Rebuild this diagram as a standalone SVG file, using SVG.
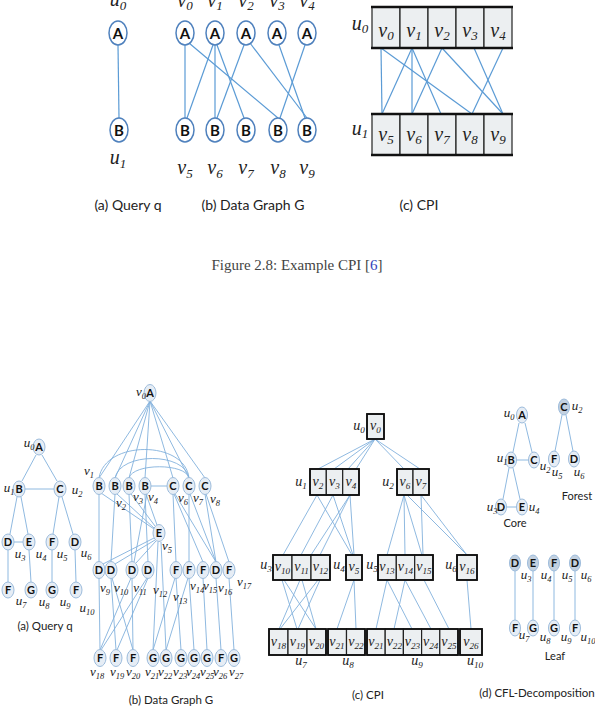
<svg xmlns="http://www.w3.org/2000/svg" width="595" height="715" viewBox="0 0 595 715">
<style>
.e1{stroke:#5b9bd5;stroke-width:1.2;fill:none}
.e2{stroke:#82b1dd;stroke-width:0.9;fill:none}
.n1{fill:#fff;stroke:#4f81bd;stroke-width:1.5}
.n2{fill:#e6edf5;stroke:#9dbcdc;stroke-width:1}
.n3{fill:#c3d1e0;stroke:#9dbcdc;stroke-width:1}
.lt{font-family:Lato,'Liberation Sans',sans-serif;font-weight:bold;text-anchor:middle;fill:#111}
.l1{font-size:15px}
.l2{font-size:11px}
.m{font-family:'Liberation Serif','DejaVu Serif',serif;font-style:italic;text-anchor:middle;fill:#222}
.m1{font-size:20px}
.m2{font-size:14px}
.m3{font-size:13px}
.s{font-size:0.65em}
.cap{font-family:Lato,'Liberation Sans',sans-serif;text-anchor:middle;fill:#222}
.cell{fill:#eceff1;stroke:#222;stroke-width:1.2}
.box{fill:none;stroke:#111;stroke-width:2.5}
</style>

<!-- ===== TOP FIGURE ===== -->
<g id="top-edges">
<line class="e1" x1="118" y1="45" x2="119" y2="118"/>
<line class="e1" x1="185" y1="45" x2="185" y2="118"/>
<line class="e1" x1="189" y1="43" x2="278" y2="118"/>
<line class="e1" x1="213" y1="45" x2="187" y2="118"/>
<line class="e1" x1="215" y1="45" x2="215" y2="118"/>
<line class="e1" x1="217" y1="45" x2="244" y2="118"/>
<line class="e1" x1="244" y1="45" x2="217" y2="118"/>
<line class="e1" x1="250" y1="43" x2="307" y2="118"/>
<line class="e1" x1="279" y1="45" x2="305" y2="118"/>
<line class="e1" x1="305" y1="45" x2="280" y2="118"/>
<line class="e1" x1="381" y1="48" x2="382" y2="114"/>
<line class="e1" x1="381" y1="48" x2="472" y2="114"/>
<line class="e1" x1="412" y1="48" x2="382" y2="114"/>
<line class="e1" x1="412" y1="48" x2="412" y2="114"/>
<line class="e1" x1="412" y1="48" x2="441" y2="114"/>
<line class="e1" x1="442" y1="48" x2="412" y2="114"/>
<line class="e1" x1="442" y1="48" x2="503" y2="114"/>
<line class="e1" x1="474" y1="48" x2="503" y2="114"/>
<line class="e1" x1="503" y1="48" x2="472" y2="114"/>
</g>

<g id="tq-u0"><ellipse class="n1" cx="118" cy="33" rx="9" ry="12"/><text class="lt l1" x="118" y="38.5">A</text><text class="m m1" x="118" y="6">u<tspan class="s" dy="3.5">0</tspan></text></g>
<g id="tq-u1"><ellipse class="n1" cx="119" cy="130" rx="9" ry="12"/><text class="lt l1" x="119" y="135.5">B</text><text class="m m1" x="118" y="164">u<tspan class="s" dy="3.5">1</tspan></text></g>

<g id="tg-v0"><ellipse class="n1" cx="185" cy="33" rx="9" ry="12"/><text class="lt l1" x="185" y="38.5">A</text><text class="m m1" x="185" y="7">v<tspan class="s" dy="3">0</tspan></text></g>
<g id="tg-v1"><ellipse class="n1" cx="215" cy="33" rx="9" ry="12"/><text class="lt l1" x="215" y="38.5">A</text><text class="m m1" x="215" y="7">v<tspan class="s" dy="3">1</tspan></text></g>
<g id="tg-v2"><ellipse class="n1" cx="246" cy="33" rx="9" ry="12"/><text class="lt l1" x="246" y="38.5">A</text><text class="m m1" x="246" y="7">v<tspan class="s" dy="3">2</tspan></text></g>
<g id="tg-v3"><ellipse class="n1" cx="277" cy="33" rx="9" ry="12"/><text class="lt l1" x="277" y="38.5">A</text><text class="m m1" x="277" y="7">v<tspan class="s" dy="3">3</tspan></text></g>
<g id="tg-v4"><ellipse class="n1" cx="307" cy="33" rx="9" ry="12"/><text class="lt l1" x="307" y="38.5">A</text><text class="m m1" x="307" y="7">v<tspan class="s" dy="3">4</tspan></text></g>
<g id="tg-v5"><ellipse class="n1" cx="185" cy="130" rx="9" ry="12"/><text class="lt l1" x="185" y="135.5">B</text><text class="m m1" x="185" y="174">v<tspan class="s" dy="3.5">5</tspan></text></g>
<g id="tg-v6"><ellipse class="n1" cx="215" cy="130" rx="9" ry="12"/><text class="lt l1" x="215" y="135.5">B</text><text class="m m1" x="215" y="174">v<tspan class="s" dy="3.5">6</tspan></text></g>
<g id="tg-v7"><ellipse class="n1" cx="246" cy="130" rx="9" ry="12"/><text class="lt l1" x="246" y="135.5">B</text><text class="m m1" x="246" y="174">v<tspan class="s" dy="3.5">7</tspan></text></g>
<g id="tg-v8"><ellipse class="n1" cx="278" cy="130" rx="9" ry="12"/><text class="lt l1" x="278" y="135.5">B</text><text class="m m1" x="278" y="174">v<tspan class="s" dy="3.5">8</tspan></text></g>
<g id="tg-v9"><ellipse class="n1" cx="307" cy="130" rx="9" ry="12"/><text class="lt l1" x="307" y="135.5">B</text><text class="m m1" x="307" y="174">v<tspan class="s" dy="3.5">9</tspan></text></g>

<g id="tc-u0">
<rect class="cell" x="372" y="7" width="28" height="41"/><rect class="cell" x="400" y="7" width="28" height="41"/><rect class="cell" x="428" y="7" width="28" height="41"/><rect class="cell" x="456" y="7" width="28" height="41"/><rect class="cell" x="484" y="7" width="28" height="41"/>
<line class="box" x1="371" y1="7" x2="513" y2="7"/><line class="box" x1="371" y1="48" x2="513" y2="48"/>
<text class="m m1" x="386" y="37">v<tspan class="s" dy="3">0</tspan></text>
<text class="m m1" x="414" y="37">v<tspan class="s" dy="3">1</tspan></text>
<text class="m m1" x="442" y="37">v<tspan class="s" dy="3">2</tspan></text>
<text class="m m1" x="470" y="37">v<tspan class="s" dy="3">3</tspan></text>
<text class="m m1" x="498" y="37">v<tspan class="s" dy="3">4</tspan></text>
<text class="m m1" x="360" y="30">u<tspan class="s" dy="3">0</tspan></text>
</g>
<g id="tc-u1">
<rect class="cell" x="372" y="114" width="28" height="41"/><rect class="cell" x="400" y="114" width="28" height="41"/><rect class="cell" x="428" y="114" width="28" height="41"/><rect class="cell" x="456" y="114" width="28" height="41"/><rect class="cell" x="484" y="114" width="28" height="41"/>
<line class="box" x1="371" y1="114" x2="513" y2="114"/><line class="box" x1="371" y1="155" x2="513" y2="155"/>
<text class="m m1" x="386" y="141">v<tspan class="s" dy="3">5</tspan></text>
<text class="m m1" x="414" y="141">v<tspan class="s" dy="3">6</tspan></text>
<text class="m m1" x="442" y="141">v<tspan class="s" dy="3">7</tspan></text>
<text class="m m1" x="470" y="141">v<tspan class="s" dy="3">8</tspan></text>
<text class="m m1" x="498" y="141">v<tspan class="s" dy="3">9</tspan></text>
<text class="m m1" x="360" y="135">u<tspan class="s" dy="3">1</tspan></text>
</g>

<g id="top-captions">
<text class="cap" x="128" y="210" font-size="14">(a) Query q</text>
<text class="cap" x="253" y="210" font-size="14">(b) Data Graph G</text>
<text class="cap" x="419" y="210" font-size="14">(c) CPI</text>
</g>

<text x="297" y="270" font-family="'Liberation Serif',serif" font-size="15" fill="#444" text-anchor="middle">Figure 2.8: Example CPI [<tspan fill="#3344bb">6</tspan>]</text>

<!-- ===== BOTTOM FIGURE ===== -->
<g id="bottom-edges">
<!-- query q -->
<line class="e2" x1="36" y1="455" x2="22" y2="481"/>
<line class="e2" x1="42" y1="455" x2="57" y2="481"/>
<line class="e2" x1="25" y1="489" x2="54" y2="489"/>
<line class="e2" x1="17" y1="497" x2="10" y2="534"/>
<line class="e2" x1="21" y1="497" x2="28" y2="534"/>
<line class="e2" x1="59" y1="497" x2="53" y2="534"/>
<line class="e2" x1="62" y1="497" x2="73" y2="534"/>
<line class="e2" x1="14" y1="542" x2="23" y2="542"/>
<line class="e2" x1="8" y1="550" x2="8" y2="582"/>
<line class="e2" x1="29" y1="550" x2="31" y2="582"/>
<line class="e2" x1="52" y1="550" x2="52" y2="582"/>
<line class="e2" x1="75" y1="550" x2="76" y2="582"/>
<!-- data graph: A to B/C -->
<line class="e2" x1="150" y1="401" x2="99" y2="478"/>
<line class="e2" x1="150" y1="401" x2="115" y2="478"/>
<line class="e2" x1="150" y1="401" x2="129" y2="478"/>
<line class="e2" x1="150" y1="401" x2="145" y2="478"/>
<line class="e2" x1="150" y1="401" x2="173" y2="478"/>
<line class="e2" x1="150" y1="401" x2="189" y2="478"/>
<line class="e2" x1="150" y1="401" x2="205" y2="478"/>
<!-- arcs B-C -->
<path class="e2" d="M99,478 C105,440 185,440 189,478"/>
<path class="e2" d="M115,478 C120,452 185,452 189,478"/>
<path class="e2" d="M129,478 C133,463 186,463 189,478"/>
<line class="e2" x1="151" y1="486" x2="167" y2="486"/>
<!-- B to E -->
<line class="e2" x1="101" y1="493" x2="154" y2="529"/>
<line class="e2" x1="117" y1="494" x2="154" y2="528"/>
<line class="e2" x1="131" y1="494" x2="155" y2="526"/>
<line class="e2" x1="146" y1="494" x2="157" y2="525"/>
<!-- B to D -->
<line class="e2" x1="99" y1="494" x2="99" y2="562"/>
<line class="e2" x1="115" y1="494" x2="111" y2="562"/>
<line class="e2" x1="129" y1="494" x2="132" y2="562"/>
<line class="e2" x1="145" y1="494" x2="148" y2="562"/>
<line class="e2" x1="147" y1="494" x2="134" y2="562"/>
<!-- E to D and G -->
<line class="e2" x1="154" y1="538" x2="103" y2="564"/>
<line class="e2" x1="155" y1="540" x2="115" y2="564"/>
<line class="e2" x1="156" y1="541" x2="136" y2="563"/>
<line class="e2" x1="158" y1="542" x2="153" y2="650"/>
<line class="e2" x1="161" y1="542" x2="166" y2="650"/>
<!-- C to F/D -->
<line class="e2" x1="173" y1="494" x2="176" y2="562"/>
<line class="e2" x1="174" y1="494" x2="203" y2="562"/>
<line class="e2" x1="175" y1="494" x2="216" y2="562"/>
<line class="e2" x1="189" y1="494" x2="189" y2="562"/>
<line class="e2" x1="190" y1="494" x2="216" y2="562"/>
<line class="e2" x1="205" y1="494" x2="216" y2="562"/>
<line class="e2" x1="206" y1="494" x2="229" y2="562"/>
<!-- D to F -->
<line class="e2" x1="99" y1="578" x2="100" y2="650"/>
<line class="e2" x1="111" y1="578" x2="116" y2="650"/>
<line class="e2" x1="112" y1="578" x2="133" y2="650"/>
<line class="e2" x1="132" y1="578" x2="133" y2="650"/>
<line class="e2" x1="131" y1="578" x2="100" y2="650"/>
<line class="e2" x1="147" y1="578" x2="101" y2="650"/>
<line class="e2" x1="148" y1="578" x2="117" y2="650"/>
<!-- F/D to G/F -->
<line class="e2" x1="175" y1="578" x2="153" y2="650"/>
<line class="e2" x1="176" y1="578" x2="181" y2="650"/>
<line class="e2" x1="188" y1="578" x2="166" y2="650"/>
<line class="e2" x1="189" y1="578" x2="194" y2="650"/>
<line class="e2" x1="203" y1="578" x2="207" y2="650"/>
<line class="e2" x1="216" y1="578" x2="221" y2="650"/>
<line class="e2" x1="229" y1="578" x2="234" y2="650"/>
<!-- CPI -->
<line class="e2" x1="375" y1="439" x2="318" y2="469"/>
<line class="e2" x1="375" y1="439" x2="334" y2="469"/>
<line class="e2" x1="375" y1="439" x2="348" y2="469"/>
<line class="e2" x1="375" y1="439" x2="356" y2="469"/>
<line class="e2" x1="375" y1="439" x2="404" y2="469"/>
<line class="e2" x1="375" y1="439" x2="420" y2="469"/>
<line class="e2" x1="317" y1="495" x2="283" y2="555"/>
<line class="e2" x1="317" y1="495" x2="352" y2="555"/>
<line class="e2" x1="333" y1="495" x2="301" y2="555"/>
<line class="e2" x1="333" y1="495" x2="353" y2="555"/>
<line class="e2" x1="350" y1="495" x2="311" y2="555"/>
<line class="e2" x1="350" y1="495" x2="320" y2="555"/>
<line class="e2" x1="350" y1="495" x2="354" y2="555"/>
<line class="e2" x1="404" y1="495" x2="387" y2="555"/>
<line class="e2" x1="404" y1="495" x2="405" y2="555"/>
<line class="e2" x1="404" y1="495" x2="422" y2="555"/>
<line class="e2" x1="407" y1="495" x2="467" y2="555"/>
<line class="e2" x1="421" y1="495" x2="423" y2="555"/>
<line class="e2" x1="421" y1="495" x2="467" y2="555"/>
<line class="e2" x1="282" y1="580" x2="297" y2="629"/>
<line class="e2" x1="284" y1="580" x2="316" y2="629"/>
<line class="e2" x1="300" y1="580" x2="279" y2="629"/>
<line class="e2" x1="302" y1="580" x2="316" y2="629"/>
<line class="e2" x1="318" y1="580" x2="280" y2="629"/>
<line class="e2" x1="320" y1="580" x2="298" y2="629"/>
<line class="e2" x1="354" y1="580" x2="337" y2="629"/>
<line class="e2" x1="354" y1="580" x2="356" y2="629"/>
<line class="e2" x1="387" y1="580" x2="376" y2="629"/>
<line class="e2" x1="387" y1="580" x2="412" y2="629"/>
<line class="e2" x1="405" y1="580" x2="394" y2="629"/>
<line class="e2" x1="405" y1="580" x2="431" y2="629"/>
<line class="e2" x1="424" y1="580" x2="449" y2="629"/>
<line class="e2" x1="467" y1="580" x2="471" y2="629"/>
<!-- CFL decomposition -->
<line class="e2" x1="519" y1="423" x2="513" y2="452"/>
<line class="e2" x1="525" y1="423" x2="532" y2="452"/>
<line class="e2" x1="516" y1="460" x2="529" y2="460"/>
<line class="e2" x1="509" y1="468" x2="503" y2="499"/>
<line class="e2" x1="513" y1="468" x2="520" y2="499"/>
<line class="e2" x1="506" y1="507" x2="517" y2="507"/>
<line class="e2" x1="562" y1="415" x2="555" y2="451"/>
<line class="e2" x1="566" y1="415" x2="573" y2="451"/>
<line class="e2" x1="515" y1="571" x2="515" y2="620"/>
<line class="e2" x1="533" y1="571" x2="533" y2="620"/>
<line class="e2" x1="554" y1="571" x2="554" y2="620"/>
<line class="e2" x1="575" y1="571" x2="575" y2="620"/>
</g>

<!-- bottom query q -->
<g id="bq-u0"><ellipse class="n2" cx="39" cy="447" rx="6" ry="8"/><text class="lt l2" x="39" y="451">A</text><text class="m m3" x="29" y="447">u<tspan class="s" dy="2.5">0</tspan></text></g>
<g id="bq-u1"><ellipse class="n2" cx="19" cy="489" rx="6" ry="8"/><text class="lt l2" x="19" y="493">B</text><text class="m m3" x="9" y="492">u<tspan class="s" dy="2.5">1</tspan></text></g>
<g id="bq-u2"><ellipse class="n2" cx="60" cy="489" rx="6" ry="8"/><text class="lt l2" x="60" y="493">C</text><text class="m m3" x="77" y="494">u<tspan class="s" dy="2.5">2</tspan></text></g>
<g id="bq-u3"><ellipse class="n2" cx="8" cy="542" rx="6" ry="8"/><text class="lt l2" x="8" y="546">D</text><text class="m m3" x="20" y="558">u<tspan class="s" dy="2.5">3</tspan></text></g>
<g id="bq-u4"><ellipse class="n2" cx="29" cy="542" rx="6" ry="8"/><text class="lt l2" x="29" y="546">E</text><text class="m m3" x="41" y="558">u<tspan class="s" dy="2.5">4</tspan></text></g>
<g id="bq-u5"><ellipse class="n2" cx="52" cy="542" rx="6" ry="8"/><text class="lt l2" x="52" y="546">F</text><text class="m m3" x="62" y="558">u<tspan class="s" dy="2.5">5</tspan></text></g>
<g id="bq-u6"><ellipse class="n2" cx="75" cy="542" rx="6" ry="8"/><text class="lt l2" x="75" y="546">D</text><text class="m m3" x="86" y="557">u<tspan class="s" dy="2.5">6</tspan></text></g>
<g id="bq-u7"><ellipse class="n2" cx="8" cy="590" rx="6" ry="8"/><text class="lt l2" x="8" y="594">F</text><text class="m m3" x="21" y="605">u<tspan class="s" dy="2.5">7</tspan></text></g>
<g id="bq-u8"><ellipse class="n2" cx="31" cy="590" rx="6" ry="8"/><text class="lt l2" x="31" y="594">G</text><text class="m m3" x="44" y="606">u<tspan class="s" dy="2.5">8</tspan></text></g>
<g id="bq-u9"><ellipse class="n2" cx="52" cy="590" rx="6" ry="8"/><text class="lt l2" x="52" y="594">G</text><text class="m m3" x="65" y="606">u<tspan class="s" dy="2.5">9</tspan></text></g>
<g id="bq-u10"><ellipse class="n2" cx="76" cy="590" rx="6" ry="8"/><text class="lt l2" x="76" y="594">F</text><text class="m m3" x="87" y="612">u<tspan class="s" dy="2.5">10</tspan></text></g>

<!-- bottom data graph G -->
<g id="bg-v0"><ellipse class="n2" cx="150" cy="393" rx="6" ry="8.5"/><text class="lt l2" x="150" y="397">A</text><text class="m m3" x="141" y="396">v<tspan class="s" dy="2.5">0</tspan></text></g>
<g id="bg-v1"><ellipse class="n2" cx="99" cy="486" rx="6" ry="8.5"/><text class="lt l2" x="99" y="490">B</text><text class="m m3" x="89" y="475">v<tspan class="s" dy="2.5">1</tspan></text></g>
<g id="bg-v2"><ellipse class="n2" cx="115" cy="486" rx="6" ry="8.5"/><text class="lt l2" x="115" y="490">B</text><text class="m m3" x="121" y="507">v<tspan class="s" dy="2.5">2</tspan></text></g>
<g id="bg-v3"><ellipse class="n2" cx="129" cy="486" rx="6" ry="8.5"/><text class="lt l2" x="129" y="490">B</text><text class="m m3" x="138" y="501">v<tspan class="s" dy="2.5">3</tspan></text></g>
<g id="bg-v4"><ellipse class="n2" cx="145" cy="486" rx="6" ry="8.5"/><text class="lt l2" x="145" y="490">B</text><text class="m m3" x="153" y="501">v<tspan class="s" dy="2.5">4</tspan></text></g>
<g id="bg-v5"><ellipse class="n2" cx="159" cy="533" rx="6" ry="8.5"/><text class="lt l2" x="159" y="537">E</text><text class="m m3" x="167" y="550">v<tspan class="s" dy="2.5">5</tspan></text></g>
<g id="bg-v6"><ellipse class="n2" cx="173" cy="486" rx="6" ry="8.5"/><text class="lt l2" x="173" y="490">C</text><text class="m m3" x="183" y="502">v<tspan class="s" dy="2.5">6</tspan></text></g>
<g id="bg-v7"><ellipse class="n2" cx="189" cy="486" rx="6" ry="8.5"/><text class="lt l2" x="189" y="490">C</text><text class="m m3" x="198" y="502">v<tspan class="s" dy="2.5">7</tspan></text></g>
<g id="bg-v8"><ellipse class="n2" cx="205" cy="486" rx="6" ry="8.5"/><text class="lt l2" x="205" y="490">C</text><text class="m m3" x="215" y="503">v<tspan class="s" dy="2.5">8</tspan></text></g>
<g id="bg-v9"><ellipse class="n2" cx="99" cy="570" rx="6" ry="8.5"/><text class="lt l2" x="99" y="574">D</text><text class="m m3" x="105" y="592">v<tspan class="s" dy="2.5">9</tspan></text></g>
<g id="bg-v10"><ellipse class="n2" cx="111" cy="570" rx="6" ry="8.5"/><text class="lt l2" x="111" y="574">D</text><text class="m m3" x="121" y="592">v<tspan class="s" dy="2.5">10</tspan></text></g>
<g id="bg-v11"><ellipse class="n2" cx="132" cy="570" rx="6" ry="8.5"/><text class="lt l2" x="132" y="574">D</text><text class="m m3" x="140" y="592">v<tspan class="s" dy="2.5">11</tspan></text></g>
<g id="bg-v12"><ellipse class="n2" cx="148" cy="570" rx="6" ry="8.5"/><text class="lt l2" x="148" y="574">D</text><text class="m m3" x="160" y="594">v<tspan class="s" dy="2.5">12</tspan></text></g>
<g id="bg-v13"><ellipse class="n2" cx="176" cy="570" rx="6" ry="8.5"/><text class="lt l2" x="176" y="574">F</text><text class="m m3" x="180" y="601">v<tspan class="s" dy="2.5">13</tspan></text></g>
<g id="bg-v14"><ellipse class="n2" cx="189" cy="570" rx="6" ry="8.5"/><text class="lt l2" x="189" y="574">F</text><text class="m m3" x="197" y="590">v<tspan class="s" dy="2.5">14</tspan></text></g>
<g id="bg-v15"><ellipse class="n2" cx="203" cy="570" rx="6" ry="8.5"/><text class="lt l2" x="203" y="574">F</text><text class="m m3" x="210" y="590">v<tspan class="s" dy="2.5">15</tspan></text></g>
<g id="bg-v16"><ellipse class="n2" cx="216" cy="570" rx="6" ry="8.5"/><text class="lt l2" x="216" y="574">D</text><text class="m m3" x="225" y="592">v<tspan class="s" dy="2.5">16</tspan></text></g>
<g id="bg-v17"><ellipse class="n2" cx="229" cy="570" rx="6" ry="8.5"/><text class="lt l2" x="229" y="574">F</text><text class="m m3" x="244" y="586">v<tspan class="s" dy="2.5">17</tspan></text></g>
<g id="bg-v18"><ellipse class="n2" cx="100" cy="658" rx="6" ry="8.5"/><text class="lt l2" x="100" y="662">F</text><text class="m m3" x="97" y="676">v<tspan class="s" dy="2.5">18</tspan></text></g>
<g id="bg-v19"><ellipse class="n2" cx="116" cy="658" rx="6" ry="8.5"/><text class="lt l2" x="116" y="662">F</text><text class="m m3" x="117" y="676">v<tspan class="s" dy="2.5">19</tspan></text></g>
<g id="bg-v20"><ellipse class="n2" cx="133" cy="658" rx="6" ry="8.5"/><text class="lt l2" x="133" y="662">F</text><text class="m m3" x="133" y="676">v<tspan class="s" dy="2.5">20</tspan></text></g>
<g id="bg-v21"><ellipse class="n2" cx="153" cy="658" rx="6" ry="8.5"/><text class="lt l2" x="153" y="662">G</text><text class="m m3" x="152" y="676">v<tspan class="s" dy="2.5">21</tspan></text></g>
<g id="bg-v22"><ellipse class="n2" cx="166" cy="658" rx="6" ry="8.5"/><text class="lt l2" x="166" y="662">G</text><text class="m m3" x="165" y="676">v<tspan class="s" dy="2.5">22</tspan></text></g>
<g id="bg-v23"><ellipse class="n2" cx="181" cy="658" rx="6" ry="8.5"/><text class="lt l2" x="181" y="662">G</text><text class="m m3" x="180" y="676">v<tspan class="s" dy="2.5">23</tspan></text></g>
<g id="bg-v24"><ellipse class="n2" cx="194" cy="658" rx="6" ry="8.5"/><text class="lt l2" x="194" y="662">G</text><text class="m m3" x="193" y="676">v<tspan class="s" dy="2.5">24</tspan></text></g>
<g id="bg-v25"><ellipse class="n2" cx="207" cy="658" rx="6" ry="8.5"/><text class="lt l2" x="207" y="662">G</text><text class="m m3" x="207" y="676">v<tspan class="s" dy="2.5">25</tspan></text></g>
<g id="bg-v26"><ellipse class="n2" cx="221" cy="658" rx="6" ry="8.5"/><text class="lt l2" x="221" y="662">F</text><text class="m m3" x="220" y="676">v<tspan class="s" dy="2.5">26</tspan></text></g>
<g id="bg-v27"><ellipse class="n2" cx="234" cy="658" rx="6" ry="8.5"/><text class="lt l2" x="234" y="662">G</text><text class="m m3" x="236" y="676">v<tspan class="s" dy="2.5">27</tspan></text></g>

<!-- bottom CPI -->
<g id="bc-u0">
<rect class="cell" x="367" y="414" width="17" height="25"/>
<rect class="box" x="367" y="414" width="17" height="25" style="stroke-width:1.8"/>
<text class="m m2" x="375.5" y="430">v<tspan class="s" dy="2.5">0</tspan></text>
<text class="m m2" x="359" y="430">u<tspan class="s" dy="2.5">0</tspan></text>
</g>
<g id="bc-u1">
<rect class="cell" x="310" y="469" width="16.3" height="26"/><rect class="cell" x="326.3" y="469" width="16.4" height="26"/><rect class="cell" x="342.7" y="469" width="16.3" height="26"/>
<rect class="box" x="310" y="469" width="49" height="26" style="stroke-width:1.8"/>
<text class="m m2" x="318" y="486">v<tspan class="s" dy="2.5">2</tspan></text>
<text class="m m2" x="334.5" y="486">v<tspan class="s" dy="2.5">3</tspan></text>
<text class="m m2" x="351" y="486">v<tspan class="s" dy="2.5">4</tspan></text>
<text class="m m2" x="301" y="486">u<tspan class="s" dy="2.5">1</tspan></text>
</g>
<g id="bc-u2">
<rect class="cell" x="397" y="469" width="16" height="26"/><rect class="cell" x="413" y="469" width="16" height="26"/>
<rect class="box" x="397" y="469" width="32" height="26" style="stroke-width:1.8"/>
<text class="m m2" x="405" y="486">v<tspan class="s" dy="2.5">6</tspan></text>
<text class="m m2" x="421" y="486">v<tspan class="s" dy="2.5">7</tspan></text>
<text class="m m2" x="388" y="486">u<tspan class="s" dy="2.5">2</tspan></text>
</g>
<g id="bc-u3">
<rect class="cell" x="273" y="555" width="19" height="25"/><rect class="cell" x="292" y="555" width="19" height="25"/><rect class="cell" x="311" y="555" width="19" height="25"/>
<rect class="box" x="273" y="555" width="57" height="25" style="stroke-width:1.8"/>
<text class="m m2" x="282.5" y="571">v<tspan class="s" dy="2.5">10</tspan></text>
<text class="m m2" x="301.5" y="571">v<tspan class="s" dy="2.5">11</tspan></text>
<text class="m m2" x="320.5" y="571">v<tspan class="s" dy="2.5">12</tspan></text>
<text class="m m2" x="266" y="569">u<tspan class="s" dy="2.5">3</tspan></text>
</g>
<g id="bc-u4">
<rect class="cell" x="346" y="555" width="16" height="25"/>
<rect class="box" x="346" y="555" width="16" height="25" style="stroke-width:1.8"/>
<text class="m m2" x="354" y="571">v<tspan class="s" dy="2.5">5</tspan></text>
<text class="m m2" x="339" y="569">u<tspan class="s" dy="2.5">4</tspan></text>
</g>
<g id="bc-u5">
<rect class="cell" x="378" y="555" width="18.3" height="25"/><rect class="cell" x="396.3" y="555" width="18.4" height="25"/><rect class="cell" x="414.7" y="555" width="18.3" height="25"/>
<rect class="box" x="378" y="555" width="55" height="25" style="stroke-width:1.8"/>
<text class="m m2" x="387" y="571">v<tspan class="s" dy="2.5">13</tspan></text>
<text class="m m2" x="405.5" y="571">v<tspan class="s" dy="2.5">14</tspan></text>
<text class="m m2" x="424" y="571">v<tspan class="s" dy="2.5">15</tspan></text>
<text class="m m2" x="372" y="569">u<tspan class="s" dy="2.5">5</tspan></text>
</g>
<g id="bc-u6">
<rect class="cell" x="457" y="555" width="20" height="25"/>
<rect class="box" x="457" y="555" width="20" height="25" style="stroke-width:1.8"/>
<text class="m m2" x="467" y="571">v<tspan class="s" dy="2.5">16</tspan></text>
<text class="m m2" x="451" y="569">u<tspan class="s" dy="2.5">6</tspan></text>
</g>
<g id="bc-u7">
<rect class="cell" x="269" y="629" width="19" height="26"/><rect class="cell" x="288" y="629" width="19" height="26"/><rect class="cell" x="307" y="629" width="19" height="26"/>
<rect class="box" x="269" y="629" width="57" height="26" style="stroke-width:1.8"/>
<text class="m m2" x="278.5" y="646">v<tspan class="s" dy="2.5">18</tspan></text>
<text class="m m2" x="297.5" y="646">v<tspan class="s" dy="2.5">19</tspan></text>
<text class="m m2" x="316.5" y="646">v<tspan class="s" dy="2.5">20</tspan></text>
<text class="m m2" x="301" y="665">u<tspan class="s" dy="2.5">7</tspan></text>
</g>
<g id="bc-u8">
<rect class="cell" x="328" y="629" width="18.5" height="26"/><rect class="cell" x="346.5" y="629" width="18.5" height="26"/>
<rect class="box" x="328" y="629" width="37" height="26" style="stroke-width:1.8"/>
<text class="m m2" x="337" y="646">v<tspan class="s" dy="2.5">21</tspan></text>
<text class="m m2" x="356" y="646">v<tspan class="s" dy="2.5">22</tspan></text>
<text class="m m2" x="348" y="665">u<tspan class="s" dy="2.5">8</tspan></text>
</g>
<g id="bc-u9">
<rect class="cell" x="367" y="629" width="18.2" height="26"/><rect class="cell" x="385.2" y="629" width="18.2" height="26"/><rect class="cell" x="403.4" y="629" width="18.2" height="26"/><rect class="cell" x="421.6" y="629" width="18.2" height="26"/><rect class="cell" x="439.8" y="629" width="18.2" height="26"/>
<rect class="box" x="367" y="629" width="91" height="26" style="stroke-width:1.8"/>
<text class="m m2" x="376" y="646">v<tspan class="s" dy="2.5">21</tspan></text>
<text class="m m2" x="394.3" y="646">v<tspan class="s" dy="2.5">22</tspan></text>
<text class="m m2" x="412.5" y="646">v<tspan class="s" dy="2.5">23</tspan></text>
<text class="m m2" x="430.7" y="646">v<tspan class="s" dy="2.5">24</tspan></text>
<text class="m m2" x="449" y="646">v<tspan class="s" dy="2.5">25</tspan></text>
<text class="m m2" x="417" y="665">u<tspan class="s" dy="2.5">9</tspan></text>
</g>
<g id="bc-u10">
<rect class="cell" x="460" y="629" width="22" height="26"/>
<rect class="box" x="460" y="629" width="22" height="26" style="stroke-width:1.8"/>
<text class="m m2" x="471" y="646">v<tspan class="s" dy="2.5">26</tspan></text>
<text class="m m2" x="475" y="665">u<tspan class="s" dy="2.5">10</tspan></text>
</g>

<!-- CFL decomposition -->
<g id="core-u0"><ellipse class="n2" cx="522" cy="415" rx="5.5" ry="8"/><text class="lt l2" x="522" y="419">A</text><text class="m m3" x="509" y="417">u<tspan class="s" dy="2.5">0</tspan></text></g>
<g id="core-u1"><ellipse class="n2" cx="511" cy="460" rx="5.5" ry="8"/><text class="m m3" x="502" y="462">u<tspan class="s" dy="2.5">1</tspan></text><text class="lt l2" x="511" y="464">B</text></g>
<g id="core-u2"><ellipse class="n2" cx="534" cy="460" rx="5.5" ry="8"/><text class="lt l2" x="534" y="464">C</text><text class="m m3" x="545" y="470">u<tspan class="s" dy="2.5">2</tspan></text></g>
<g id="core-u3"><ellipse class="n2" cx="501" cy="507" rx="5.5" ry="8"/><text class="lt l2" x="501" y="511">D</text><text class="m m3" x="492" y="511">u<tspan class="s" dy="2.5">3</tspan></text></g>
<g id="core-u4"><ellipse class="n2" cx="522" cy="507" rx="5.5" ry="8"/><text class="lt l2" x="522" y="511">E</text><text class="m m3" x="534" y="511">u<tspan class="s" dy="2.5">4</tspan></text></g>
<text class="cap" x="515" y="527" font-size="11">Core</text>

<g id="forest-u2"><ellipse class="n3" cx="564" cy="407" rx="5.5" ry="8"/><text class="lt l2" x="564" y="411">C</text><text class="m m3" x="577" y="410">u<tspan class="s" dy="2.5">2</tspan></text></g>
<g id="forest-u5"><ellipse class="n2" cx="554" cy="459" rx="5.5" ry="8"/><text class="lt l2" x="554" y="463">F</text><text class="m m3" x="557" y="476">u<tspan class="s" dy="2.5">5</tspan></text></g>
<g id="forest-u6"><ellipse class="n2" cx="574" cy="459" rx="5.5" ry="8"/><text class="lt l2" x="574" y="463">D</text><text class="m m3" x="579" y="476">u<tspan class="s" dy="2.5">6</tspan></text></g>
<text class="cap" x="577" y="500" font-size="11">Forest</text>

<g id="leaf-u3"><ellipse class="n3" cx="515" cy="563" rx="5.5" ry="8"/><text class="lt l2" x="515" y="567">D</text><text class="m m3" x="526" y="579">u<tspan class="s" dy="2.5">3</tspan></text></g>
<g id="leaf-u4"><ellipse class="n3" cx="533" cy="563" rx="5.5" ry="8"/><text class="lt l2" x="533" y="567">E</text><text class="m m3" x="546" y="579">u<tspan class="s" dy="2.5">4</tspan></text></g>
<g id="leaf-u5"><ellipse class="n3" cx="554" cy="563" rx="5.5" ry="8"/><text class="lt l2" x="554" y="567">F</text><text class="m m3" x="567" y="579">u<tspan class="s" dy="2.5">5</tspan></text></g>
<g id="leaf-u6"><ellipse class="n3" cx="575" cy="563" rx="5.5" ry="8"/><text class="lt l2" x="575" y="567">D</text><text class="m m3" x="586" y="579">u<tspan class="s" dy="2.5">6</tspan></text></g>
<g id="leaf-u7"><ellipse class="n2" cx="515" cy="628" rx="5.5" ry="8"/><text class="lt l2" x="515" y="632">F</text><text class="m m3" x="524" y="639">u<tspan class="s" dy="2.5">7</tspan></text></g>
<g id="leaf-u8"><ellipse class="n2" cx="533" cy="628" rx="5.5" ry="8"/><text class="lt l2" x="533" y="632">G</text><text class="m m3" x="545" y="641">u<tspan class="s" dy="2.5">8</tspan></text></g>
<g id="leaf-u9"><ellipse class="n2" cx="554" cy="628" rx="5.5" ry="8"/><text class="lt l2" x="554" y="632">G</text><text class="m m3" x="566" y="641">u<tspan class="s" dy="2.5">9</tspan></text></g>
<g id="leaf-u10"><ellipse class="n2" cx="575" cy="628" rx="5.5" ry="8"/><text class="lt l2" x="575" y="632">F</text><text class="m m3" x="588" y="641">u<tspan class="s" dy="2.5">10</tspan></text></g>
<text class="cap" x="555" y="660" font-size="11">Leaf</text>

<g id="bottom-captions">
<text class="cap" x="45" y="630" font-size="11.5">(a) Query q</text>
<text class="cap" x="171" y="704" font-size="11.5">(b) Data Graph G</text>
<text class="cap" x="368" y="699" font-size="11.5">(c) CPI</text>
<text class="cap" x="537" y="697" font-size="11.5">(d) CFL-Decomposition</text>
</g>
</svg>
